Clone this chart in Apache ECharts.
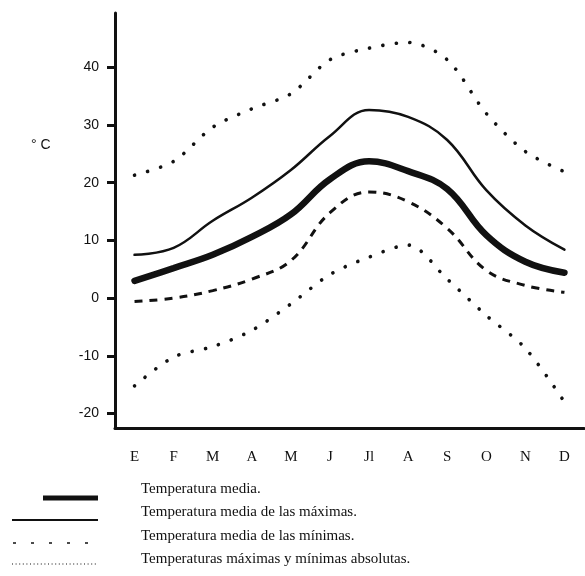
<!DOCTYPE html>
<html>
<head>
<meta charset="utf-8">
<script src="https://cdn.jsdelivr.net/npm/echarts@6/dist/echarts.min.js"></script>
<style>
  html, body { margin: 0; padding: 0; background: #fff; }
  #chart { width: 585px; height: 576px; }
</style>
</head>
<body>
<div id="chart"></div>
<script>
// Months (Spanish initials)
const months = ['E', 'F', 'M', 'A', 'M', 'J', 'Jl', 'A', 'S', 'O', 'N', 'D'];

// Monthly temperatures, °C
const tempMedia     = [3.0, 5.2, 7.5, 10.6, 14.5, 20.6, 23.7, 22.0, 18.9, 10.9, 6.3, 4.4];
const tempMediaMax  = [7.5, 8.7, 13.4, 17.4, 22.2, 28.1, 32.6, 31.4, 27.4, 18.7, 12.6, 8.4];
const tempMediaMin  = [-0.6, 0.0, 1.3, 3.3, 6.5, 14.8, 18.4, 16.7, 12.1, 4.8, 2.2, 1.0];
const tempAbsMax    = [21.3, 23.7, 29.6, 32.8, 35.4, 41.3, 43.3, 44.3, 41.3, 32.0, 25.4, 21.9];
const tempAbsMin    = [-15.2, -10.2, -8.4, -5.6, -1.0, 4.1, 7.1, 9.2, 3.3, -3.0, -8.7, -18.0];

// Y axis tick labels
const yTicks = [-20, -10, 0, 10, 20, 30, 40];

// Legend captions
const legendNames = [
  'Temperatura media.',
  'Temperatura media de las máximas.',
  'Temperatura media de las mínimas.',
  'Temperaturas máximas y mínimas absolutas.'
];

const serif = '"Liberation Serif", "DejaVu Serif", serif';
const sans = '"Liberation Sans", "DejaVu Sans", sans-serif';
const ink = '#111';

const chart = echarts.init(document.getElementById('chart'), null, { renderer: 'canvas' });

const dotted = { color: ink, width: 3.6, type: [0.1, 13.5], cap: 'round' };

// Legend keys drawn as plain strokes next to captions
const legendRowsY = [498, 520, 543, 564];
const textRowsY = [491, 514, 538, 561];
const legendGraphics = [
  { type: 'line', shape: { x1: 43, y1: legendRowsY[0], x2: 98, y2: legendRowsY[0] }, style: { stroke: ink, lineWidth: 5 } },
  { type: 'line', shape: { x1: 12, y1: legendRowsY[1], x2: 98, y2: legendRowsY[1] }, style: { stroke: ink, lineWidth: 2 } },
  { type: 'line', shape: { x1: 13, y1: legendRowsY[2], x2: 98, y2: legendRowsY[2] }, style: { stroke: ink, lineWidth: 1.5, lineDash: [3, 15] } },
  { type: 'line', shape: { x1: 12, y1: legendRowsY[3], x2: 98, y2: legendRowsY[3] }, style: { stroke: ink, lineWidth: 1.2, lineDash: [1, 2.6] } }
];
legendNames.forEach((name, i) => {
  legendGraphics.push({
    type: 'text', left: 141, top: textRowsY[i] - 9,
    style: { text: name, fill: ink, font: '15px ' + serif }
  });
});
legendGraphics.push({
  type: 'text', left: 31, top: 138,
  style: { text: '° C', fill: ink, font: '14px ' + sans }
});

chart.setOption({
  animation: false,
  backgroundColor: '#fff',
  grid: { left: 115, right: 1, top: 13, bottom: 148, containLabel: false },
  xAxis: {
    type: 'category',
    data: months,
    boundaryGap: true,
    axisLine: { show: true, onZero: false, lineStyle: { color: ink, width: 3 } },
    axisTick: { show: false },
    axisLabel: { margin: 22, color: ink, fontFamily: serif, fontSize: 15 },
    splitLine: { show: false }
  },
  yAxis: {
    type: 'value',
    min: -22.5,
    max: 49.4,
    axisLine: { show: true, onZero: false, lineStyle: { color: ink, width: 3 } },
    axisTick: { show: true, length: 8, lineStyle: { color: ink, width: 3 }, customValues: yTicks },
    axisLabel: { margin: 16, color: ink, fontFamily: sans, fontSize: 14, customValues: yTicks },
    splitLine: { show: false }
  },
  series: [
    {
      name: legendNames[0], type: 'line', data: tempMedia, smooth: 0.4,
      symbol: 'none', lineStyle: { color: ink, width: 6.5, cap: 'round' }
    },
    {
      name: legendNames[1], type: 'line', data: tempMediaMax, smooth: 0.4,
      symbol: 'none', lineStyle: { color: ink, width: 2.5, cap: 'round' }
    },
    {
      name: legendNames[2], type: 'line', data: tempMediaMin, smooth: 0.4,
      symbol: 'none', lineStyle: { color: ink, width: 3, type: [8, 7] }
    },
    {
      name: legendNames[3] + ' (máx.)', type: 'line', data: tempAbsMax, smooth: 0.3,
      symbol: 'none', lineStyle: dotted
    },
    {
      name: legendNames[3] + ' (mín.)', type: 'line', data: tempAbsMin, smooth: 0.3,
      symbol: 'none', lineStyle: dotted
    }
  ],
  graphic: legendGraphics
});
</script>
</body>
</html>
